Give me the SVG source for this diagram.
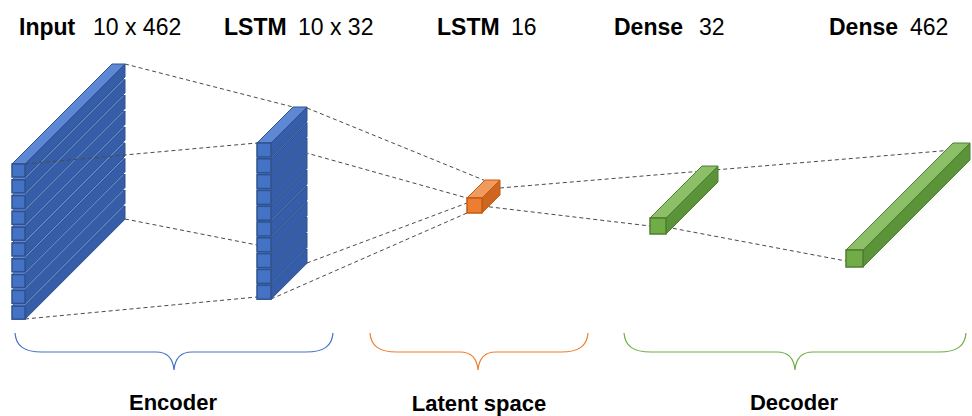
<svg xmlns="http://www.w3.org/2000/svg" xmlns:xlink="http://www.w3.org/1999/xlink" width="972" height="416" viewBox="0 0 972 416">
<style>
.bl-top{fill:#5E88D4;stroke:#2F528F;stroke-width:1;stroke-linejoin:round}
.bl-side{fill:#365EA8;stroke:#2F528F;stroke-width:1;stroke-linejoin:round}
.bl-front{fill:#4472C4;stroke:#2F528F;stroke-width:1.5}
.or-top{fill:#F19A5E;stroke:#C55A11;stroke-width:1;stroke-linejoin:round}
.or-side{fill:#CC6620;stroke:#C55A11;stroke-width:1;stroke-linejoin:round}
.or-front{fill:#ED7D31;stroke:#C55A11;stroke-width:1.5}
.gr-top{fill:#8CBF68;stroke:#507E32;stroke-width:1;stroke-linejoin:round}
.gr-side{fill:#5B9339;stroke:#507E32;stroke-width:1;stroke-linejoin:round}
.gr-front{fill:#70AD47;stroke:#507E32;stroke-width:1.5}
.conn{stroke:#4a4a4a;stroke-width:1;stroke-dasharray:4 3;fill:none}
.brace{fill:none;stroke-width:1.2}
.lbl{font-family:"Liberation Sans",Arial,sans-serif;font-size:23px;fill:#000}
.b{font-weight:bold}
.grp{font-family:"Liberation Sans",Arial,sans-serif;font-size:22px;font-weight:bold;fill:#000;text-anchor:middle}
</style>
<defs>
<g id="inBar">
<polygon class="bl-top" points="12,0 25,0 125,-100 112,-100"/>
<polygon class="bl-side" points="25,0 125,-100 125,-87 25,13"/>
<rect class="bl-front" x="12" y="0" width="13" height="13"/>
</g>
<g id="lsBar">
<polygon class="bl-top" points="257,0 271,0 307,-36 293,-36"/>
<polygon class="bl-side" points="271,0 307,-36 307,-22 271,14"/>
<rect class="bl-front" x="257" y="0" width="14" height="14"/>
</g>
</defs>

<g id="labels">
<text class="lbl b" x="19" y="35">Input</text>
<text class="lbl" x="93" y="35">10 x 462</text>
<text class="lbl b" x="224" y="35">LSTM</text>
<text class="lbl" x="298" y="35">10 x 32</text>
<text class="lbl b" x="437" y="35">LSTM</text>
<text class="lbl" x="511" y="35">16</text>
<text class="lbl b" x="614" y="35">Dense</text>
<text class="lbl" x="699" y="35">32</text>
<text class="lbl b" x="829" y="35">Dense</text>
<text class="lbl" x="910" y="35">462</text>
</g>

<g id="input-layer">
<use xlink:href="#inBar" href="#inBar" y="306.2"/>
<use xlink:href="#inBar" href="#inBar" y="290.4"/>
<use xlink:href="#inBar" href="#inBar" y="274.6"/>
<use xlink:href="#inBar" href="#inBar" y="258.8"/>
<use xlink:href="#inBar" href="#inBar" y="243"/>
<use xlink:href="#inBar" href="#inBar" y="227.2"/>
<use xlink:href="#inBar" href="#inBar" y="211.4"/>
<use xlink:href="#inBar" href="#inBar" y="195.6"/>
<use xlink:href="#inBar" href="#inBar" y="179.8"/>
<use xlink:href="#inBar" href="#inBar" y="164"/>
</g>

<g id="connectors">
<line class="conn" x1="125" y1="64" x2="293" y2="107"/>
<line class="conn" x1="25" y1="164" x2="257" y2="143"/>
<line class="conn" x1="125" y1="219" x2="257" y2="245"/>
<line class="conn" x1="25" y1="319" x2="257" y2="297"/>
<line class="conn" x1="307" y1="108" x2="486" y2="181"/>
<line class="conn" x1="271" y1="143" x2="467" y2="198"/>
<line class="conn" x1="307" y1="263" x2="467" y2="203"/>
<line class="conn" x1="271" y1="299" x2="467" y2="213"/>
<line class="conn" x1="500" y1="188" x2="953" y2="150"/>
<line class="conn" x1="482" y1="206" x2="650" y2="226"/>
<line class="conn" x1="666" y1="227" x2="846" y2="261"/>
</g>

<g id="lstm-layer">
<use xlink:href="#lsBar" href="#lsBar" y="285.2"/>
<use xlink:href="#lsBar" href="#lsBar" y="269.4"/>
<use xlink:href="#lsBar" href="#lsBar" y="253.6"/>
<use xlink:href="#lsBar" href="#lsBar" y="237.8"/>
<use xlink:href="#lsBar" href="#lsBar" y="222"/>
<use xlink:href="#lsBar" href="#lsBar" y="206.2"/>
<use xlink:href="#lsBar" href="#lsBar" y="190.4"/>
<use xlink:href="#lsBar" href="#lsBar" y="174.6"/>
<use xlink:href="#lsBar" href="#lsBar" y="158.8"/>
<use xlink:href="#lsBar" href="#lsBar" y="143"/>
</g>

<g id="latent-layer">
<polygon class="or-top" points="467,198 482,198 500,180 485,180"/>
<polygon class="or-side" points="482,198 500,180 500,195 482,213"/>
<rect class="or-front" x="467" y="198" width="15" height="15"/>
</g>

<g id="dense32-layer">
<polygon class="gr-top" points="650,218 666,218 718,166 702,166"/>
<polygon class="gr-side" points="666,218 718,166 718,182 666,234"/>
<rect class="gr-front" x="650" y="218" width="16" height="16"/>
</g>

<g id="dense462-layer">
<polygon class="gr-top" points="846,250 863,250 970,143 953,143"/>
<polygon class="gr-side" points="863,250 970,143 970,160 863,267"/>
<rect class="gr-front" x="846" y="250" width="17" height="17"/>
</g>

<g id="encoder-brace">
<path class="brace" stroke="#4472C4" d="M15,333 C16,346 24,352 42,352 L156,352 C167,352 173,358 174,370 C175,358 181,352 192,352 L306,352 C324,352 332,346 333,333"/>
<text class="grp" x="173" y="410">Encoder</text>
</g>

<g id="latent-brace">
<path class="brace" stroke="#ED7D31" d="M370,333 C371,346 379,352 397,352 L460,352 C471,352 477,358 478,370 C479,358 485,352 496,352 L561,352 C579,352 587,346 588,333"/>
<text class="grp" x="479" y="411">Latent space</text>
</g>

<g id="decoder-brace">
<path class="brace" stroke="#70AD47" d="M624,333 C625,346 633,352 651,352 L777,352 C788,352 794,358 795,370 C796,358 802,352 813,352 L939,352 C957,352 965,346 966,333"/>
<text class="grp" x="794" y="410">Decoder</text>
</g>
</svg>
